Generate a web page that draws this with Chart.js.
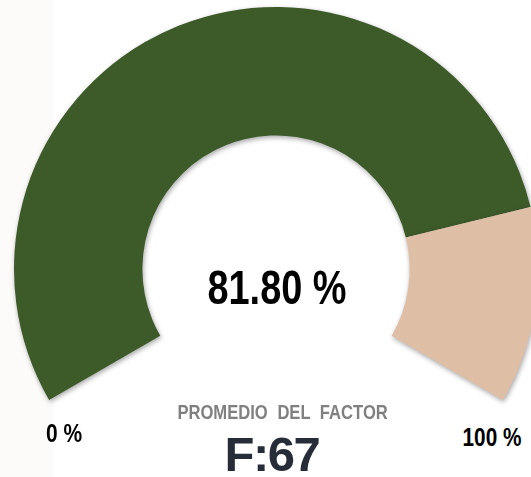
<!DOCTYPE html>
<html>
<head>
<meta charset="utf-8">
<script src="https://cdn.jsdelivr.net/npm/chart.js@4/dist/chart.umd.min.js"></script>
<style>
  html, body { margin: 0; padding: 0; width: 531px; height: 477px; overflow: hidden; background: #ffffff; }
  #strip { position: absolute; left: 0; top: 0; width: 53px; height: 477px; background: #fcfbf9; }
  #wrap { position: absolute; left: 0; top: 0; width: 552px; height: 407px; }
  .t { position: absolute; width: 240px; text-align: center; white-space: pre; line-height: 1; font-family: "Liberation Sans", Arial, sans-serif; font-weight: bold; transform-origin: 50% 50%; }
  #pct { font-size: 48px; color: #000; left: 157px; top: 264px; transform: scaleX(0.79); }
  #lbl { font-size: 20px; color: #808080; left: 157px; top: 402px; word-spacing: 6px; transform: scaleX(0.83); }
  #code { font-size: 49px; color: #262d39; left: 152px; top: 430px; letter-spacing: -1.5px; }
  #lo { font-size: 25px; color: #000; left: -56px; top: 421px; transform: scaleX(0.84); }
  #hi { font-size: 25px; color: #000; left: 372px; top: 425px; transform: scaleX(0.83); }
</style>
</head>
<body>
<div id="strip"></div>
<div id="wrap"><canvas id="c" width="552" height="407"></canvas></div>
<div class="t" id="pct"></div>
<div class="t" id="lbl"></div>
<div class="t" id="code"></div>
<div class="t" id="lo"></div>
<div class="t" id="hi"></div>
<script>
// ---- data ----
const categories = ['Promedio', 'Restante'];
const values = [81.8, 18.2];
const scaleLabels = ['0 %', '100 %'];
const factorTitle = 'PROMEDIO DEL FACTOR';
const factorCode = 'F:67';

document.getElementById('pct').textContent = values[0].toFixed(2) + ' %';
document.getElementById('lbl').textContent = factorTitle;
document.getElementById('code').textContent = factorCode;
document.getElementById('lo').textContent = scaleLabels[0];
document.getElementById('hi').textContent = scaleLabels[1];

const shadowPlugin = {
  id: 'shadow',
  beforeDatasetsDraw(chart) {
    const ctx = chart.ctx;
    ctx.save();
    ctx.shadowColor = 'rgba(0,0,0,0.35)';
    ctx.shadowBlur = 5;
    ctx.shadowOffsetX = 1;
    ctx.shadowOffsetY = 2;
  },
  afterDatasetsDraw(chart) {
    chart.ctx.restore();
  }
};

new Chart(document.getElementById('c'), {
  type: 'doughnut',
  data: {
    labels: categories,
    datasets: [{
      data: values,
      backgroundColor: ['#3d5a29', '#dfbea6'],
      borderWidth: 0
    }]
  },
  options: {
    responsive: false,
    devicePixelRatio: 1,
    animation: false,
    rotation: -120,
    circumference: 240,
    radius: 262,
    cutout: '51%',
    layout: { padding: 0 },
    plugins: {
      legend: { display: false },
      tooltip: { enabled: false }
    }
  },
  plugins: [shadowPlugin]
});
</script>
</body>
</html>
